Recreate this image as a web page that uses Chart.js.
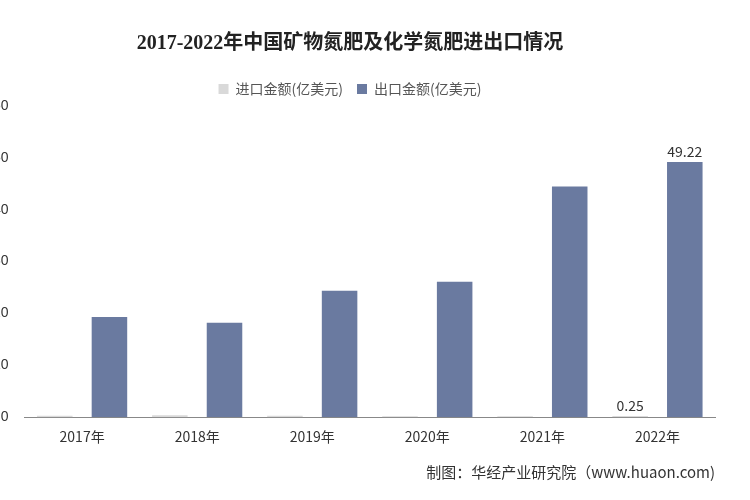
<!DOCTYPE html>
<html><head><meta charset="utf-8">
<script src="https://cdn.jsdelivr.net/npm/chart.js@4"></script>
<style>body{margin:0;background:#fff}#w{position:absolute;left:-15px;top:0;width:765px;height:500px}</style>
</head><body><div id="w"><canvas id="c"></canvas></div>
<script>
const categories=['2017年','2018年','2019年','2020年','2021年','2022年'];
const importValues=[0.3,0.4,0.3,0.2,0.2,0.25];
const exportValues=[19.3,18.2,24.4,26.1,44.5,49.22];
const yTicks=[0,10,20,30,40,50,60];
const labelPlugin={id:'lbl',afterDatasetsDraw(ch){const c=ch.ctx;c.save();c.font='14px "Noto Sans CJK SC"';c.fillStyle='#333';c.textAlign='center';
 const last=categories.length-1;
 [[0,importValues],[1,exportValues]].forEach(([i,arr])=>{const el=ch.getDatasetMeta(i).data[last];c.fillText(String(arr[last]),el.x,el.y-10);});
 c.restore();}};
new Chart(document.getElementById('c'),{type:'bar',
 data:{labels:categories,datasets:[
  {label:'进口金额(亿美元)',data:importValues,backgroundColor:'#d9d9d9',barPercentage:0.65,categoryPercentage:0.95},
  {label:'出口金额(亿美元)',data:exportValues,backgroundColor:'#6a7aa0',barPercentage:0.65,categoryPercentage:0.95}]},
 options:{responsive:true,maintainAspectRatio:false,animation:false,
  layout:{padding:{top:12,right:35,bottom:52,left:0}},
  plugins:{title:{display:true,text:'2017-2022年中国矿物氮肥及化学氮肥进出口情况',font:{size:20,weight:'bold',family:'"Liberation Serif","Noto Sans CJK SC"'},color:'#222',padding:{top:20,bottom:12}},
   legend:{labels:{boxWidth:10,boxHeight:10,padding:14,font:{size:14,family:'"Noto Sans CJK SC"'},color:'#555'}},
   tooltip:{enabled:false}},
  scales:{x:{grid:{display:false},border:{color:'#888'},ticks:{color:'#333',font:{size:14,family:'"Noto Sans CJK SC"'}}},
   y:{min:0,max:60,afterBuildTicks:a=>{a.ticks=yTicks.map(v=>({value:v}))},grid:{display:false},border:{display:false},ticks:{color:'#333',font:{size:14},padding:8}}}},
 plugins:[labelPlugin,{id:'foot',afterDraw(ch){const c=ch.ctx;c.save();c.font='15px "Noto Sans CJK SC"';c.fillStyle='#333';c.textAlign='right';c.fillText('制图：华经产业研究院（www.huaon.com)',730,472);c.restore();}}]});
</script></body></html>
